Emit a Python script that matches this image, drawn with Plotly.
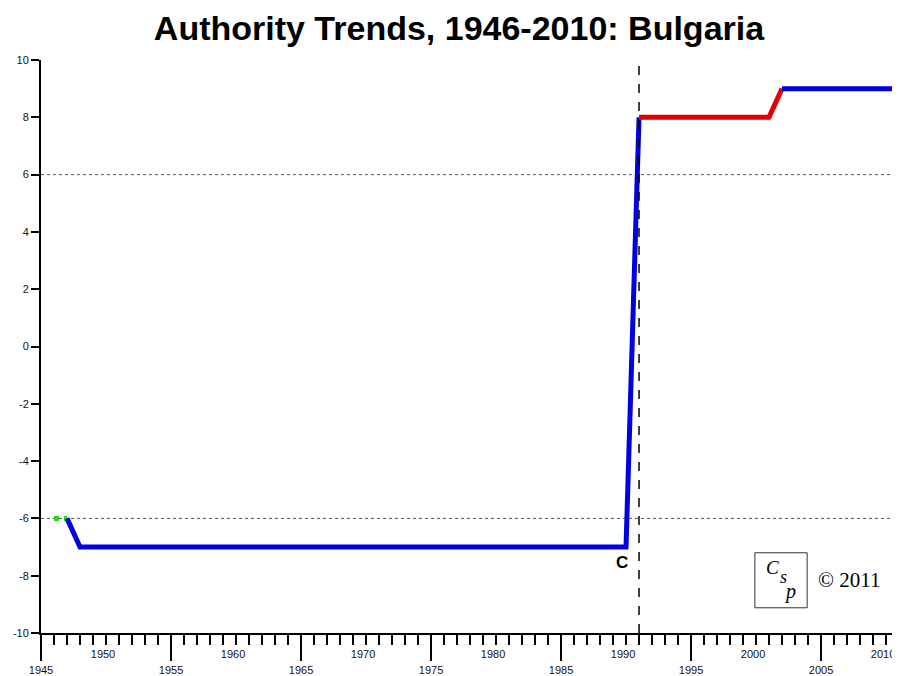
import plotly.graph_objects as go

# ---- data ----
years = list(range(1946, 2011))
polity = ([-6, -6] + [-7] * (1990 - 1948 + 1) + [8] * (2001 - 1991 + 1) + [9] * (2010 - 2002 + 1))
seg_start = [1946, 1947, 1991, 2002]
seg_end = [1947, 1991, 2002, 2010]
seg_type = ["transition", "normal", "factional", "normal"]
change_year = 1991
change_label = "C"
change_label_year = 1989.7
change_label_value = -7.55
ref_lines = [6, -6]
x_lower_labels = [1945, 1955, 1965, 1975, 1985, 1995, 2005]
x_upper_labels = [1950, 1960, 1970, 1980, 1990, 2000, 2010]
y_ticks = list(range(-10, 11, 2))

X_MIN, X_MAX = 1945, 2010.92
styles = {
    "transition": dict(color="#22dd22", width=5, dash="dot"),
    "normal": dict(color="#0000e0", width=5, dash="solid"),
    "factional": dict(color="#e00000", width=5, dash="solid"),
}
FONT = "Liberation Sans, Arial"

fig = go.Figure()
val = dict(zip(years, polity))
for s, e, t in zip(seg_start, seg_end, seg_type):
    xs = [y for y in years if s <= y <= e]
    ys = [val[y] for y in xs]
    if e == years[-1]:
        xs = xs + [X_MAX + 0.1]
        ys = ys + [ys[-1]]
    fig.add_trace(go.Scatter(x=xs, y=ys, mode="lines", line=styles[t],
                             hoverinfo="skip", showlegend=False))

# invisible trace to activate second x axis (upper row labels)
fig.add_trace(go.Scatter(x=[X_MIN], y=[0], xaxis="x2", mode="markers",
                         marker=dict(opacity=0), hoverinfo="skip", showlegend=False))

shapes = []
for r in ref_lines:
    shapes.append(dict(type="line", xref="paper", x0=0, x1=1, yref="y", y0=r, y1=r,
                       line=dict(color="#555", width=1, dash="dot"), layer="below"))
shapes.append(dict(type="line", xref="x", x0=change_year, x1=change_year, yref="y", y0=-10, y1=10,
                   line=dict(color="black", width=1.5, dash="dash")))
# right frame line
shapes.append(dict(type="line", xref="paper", x0=1, x1=1, yref="paper", y0=0, y1=1,
                   line=dict(color="#777", width=2)))
# logo box
shapes.append(dict(type="rect", xref="paper", x0=0.833, x1=0.894, yref="paper", y0=0.044, y1=0.14,
                   line=dict(color="#333", width=1), fillcolor="white"))

def note(x, y, text, size, family="Liberation Serif"):
    return dict(xref="paper", yref="paper", x=x, y=y, text=text, showarrow=False,
                xanchor="center", yanchor="middle",
                font=dict(family=family, size=size, color="black"))

annotations = [
    dict(x=change_label_year, y=change_label_value, xref="x", yref="y", text="<b>" + change_label + "</b>",
         showarrow=False, xanchor="center", yanchor="middle",
         font=dict(family=FONT, size=17, color="black")),
    note(0.853, 0.115, "<i>C</i>", 19),
    note(0.866, 0.097, "<i>s</i>", 18),
    note(0.874, 0.072, "<i>p</i>", 20),
    note(0.943, 0.0925, "© 2011", 21),
]

fig.update_layout(
    width=892, height=668,
    margin=dict(l=33, r=2, t=52, b=43, autoexpand=False),
    paper_bgcolor="white", plot_bgcolor="white",
    title=dict(text="<b>Authority Trends, 1946-2010: Bulgaria</b>", x=0.5056, xref="container",
               xanchor="center", y=0.970, yref="container", yanchor="middle", automargin=False,
               font=dict(family=FONT, size=34, color="black")),
    xaxis=dict(range=[X_MIN, X_MAX], showgrid=False, zeroline=False, automargin=False,
               showline=True, linecolor="black", linewidth=2,
               ticks="outside", tickvals=x_lower_labels, ticktext=[str(v) for v in x_lower_labels],
               ticklen=26, tickwidth=1.5, tickcolor="black", ticklabeloverflow="allow",
               minor=dict(dtick=1, tick0=1945, ticks="outside", ticklen=10, tickwidth=1.5,
                          tickcolor="black", showgrid=False),
               tickfont=dict(family=FONT, size=11, color="#111")),
    xaxis2=dict(range=[X_MIN, X_MAX], overlaying="x", anchor="y", side="bottom", automargin=False,
                showgrid=False, zeroline=False, showline=False,
                ticks="outside", tickvals=x_upper_labels, ticktext=[str(v) for v in x_upper_labels],
                ticklen=11, tickwidth=1.5, tickcolor="black", ticklabeloverflow="allow",
                ticklabelshift=-3,
                tickfont=dict(family=FONT, size=11, color="#111")),
    yaxis=dict(range=[-10, 10], showgrid=False, zeroline=False, automargin=False,
               showline=True, linecolor="black", linewidth=2,
               ticks="outside", tickvals=y_ticks, ticktext=[str(v) for v in y_ticks],
               ticklen=8, tickwidth=1.5, tickcolor="black",
               tickfont=dict(family=FONT, size=11, color="#111")),
    shapes=shapes, annotations=annotations,
)

fig.write_html("out.html")
